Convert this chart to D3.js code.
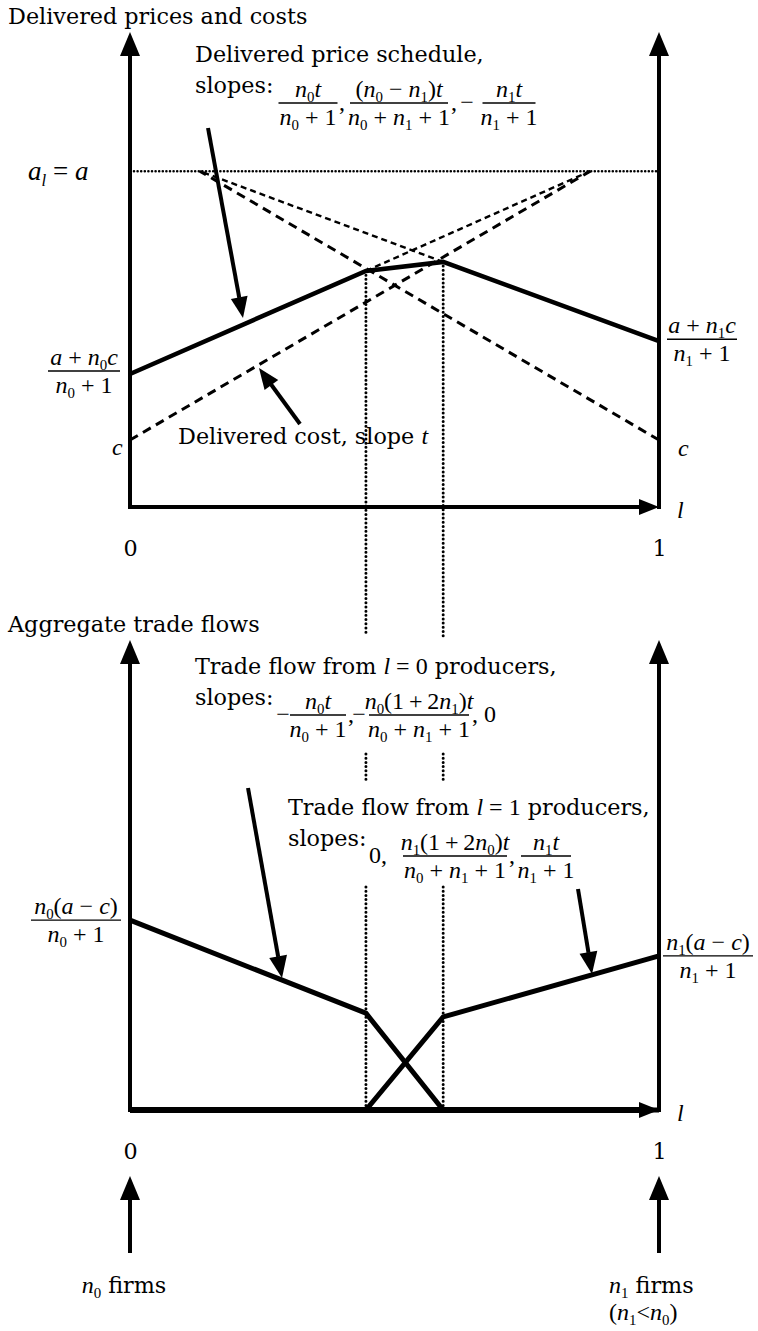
<!DOCTYPE html>
<html>
<head>
<meta charset="utf-8">
<script src="https://cdn.jsdelivr.net/npm/d3@7"></script>
<style>
  html, body { margin: 0; padding: 0; background: #fff; }
  svg { display: block; }
  text { white-space: pre; }
</style>
</head>
<body>
<svg id="chart" width="758" height="1331"></svg>
<script>
// ---------- data ----------
// location along the line segment (l) and the two market boundaries
const tickLocs = [0, 1];
const tickLabels = ["0", "1"];
const boundaries = [0.446, 0.592];

// delivered prices and costs (arbitrary price units, axis top = 100)
const levelA = 70.7;   // a_l = a
const levelC = 14.1;   // c
const priceSchedule = [[0, 28.0], [0.446, 49.7], [0.592, 51.6], [1, 34.9]];
const priceExt0 = [[0.446, 49.7], [0.870, 70.7]];
const priceExt1 = [[0.592, 51.6], [0.132, 70.7]];
const cost0 = [[0, 14.1], [0.870, 70.7]];
const cost1 = [[1, 14.1], [0.132, 70.7]];

// aggregate trade flows (arbitrary units, axis top = 100)
const flow0 = [[0, 40.4], [0.446, 20.6], [0.592, 0], [1, 0]];
const flow1 = [[0, 0], [0.446, 0], [0.592, 19.8], [1, 32.8]];

// ---------- setup ----------
const svg = d3.select("#chart");
const PROSE = "'DejaVu Serif', serif";
const MATH = "'Liberation Serif', 'Times New Roman', serif";
const PS = 22.3;
const MS = 24;

const x = d3.scaleLinear().domain([0, 1]).range([130, 659]);
const yTop = d3.scaleLinear().domain([0, 100]).range([507, 32]);
const yBot = d3.scaleLinear().domain([0, 100]).range([1110, 640]);

function arrow(g, x1, y1, x2, y2, w, hl, hw) {
  const ang = Math.atan2(y2 - y1, x2 - x1);
  const bx = x2 - hl * Math.cos(ang), by = y2 - hl * Math.sin(ang);
  g.append("line").attr("x1", x1).attr("y1", y1)
    .attr("x2", bx + 0.5 * Math.cos(ang)).attr("y2", by + 0.5 * Math.sin(ang))
    .attr("stroke", "#000").attr("stroke-width", w);
  const px = -Math.sin(ang) * hw, py = Math.cos(ang) * hw;
  g.append("path").attr("d", `M${x2},${y2}L${bx + px},${by + py}L${bx - px},${by - py}Z`).attr("fill", "#000");
}

// math markup: letters italic, "_X" subscript, everything else upright
function addMath(text, str, size, pending) {
  for (let i = 0; i < str.length; i++) {
    let ch = str[i];
    let sub = false;
    if (ch === "_") { sub = true; ch = str[++i]; }
    const italic = /[a-z]/.test(ch);
    const t = text.append("tspan")
      .attr("font-family", MATH)
      .attr("font-style", italic ? "italic" : "normal")
      .attr("font-size", sub ? size * 0.62 : size)
      .text(ch);
    const shift = sub ? size * 0.2 : 0;
    const dy = shift - pending;
    if (dy) t.attr("dy", dy);
    pending = shift;
  }
  return pending;
}

// mixed prose / math line
function rich(g, px, py, segs, anchor, mathSize) {
  const t = g.append("text").attr("x", px).attr("y", py)
    .attr("text-anchor", anchor || "start").attr("fill", "#000")
    .attr("xml:space", "preserve");
  let pending = 0;
  segs.forEach(([kind, s]) => {
    if (kind === "m") {
      pending = addMath(t, s, mathSize || MS, pending);
    } else {
      const sp = t.append("tspan").attr("font-family", PROSE).attr("font-size", PS).text(s);
      if (pending) sp.attr("dy", -pending);
      pending = 0;
    }
  });
  return t;
}

function frac(g, cx, barY, num, den, w) {
  g.append("line").attr("x1", cx - w / 2).attr("x2", cx + w / 2)
    .attr("y1", barY).attr("y2", barY).attr("stroke", "#000").attr("stroke-width", 1.3);
  rich(g, cx, barY - 6, [["m", num]], "middle");
  rich(g, cx, barY + 22, [["m", den]], "middle");
}

const lineT = d3.line().x(d => x(d[0])).y(d => yTop(d[1]));
const lineB = d3.line().x(d => x(d[0])).y(d => yBot(d[1]));
const TS = "\u2009"; // thin space for compact formulas

// ================= upper panel: delivered prices and costs =================
const upper = svg.append("g");

rich(upper, 8, 24, [["p", "Delivered prices and costs"]]);

// a level (dotted)
upper.append("line").attr("x1", x(0) + 4).attr("x2", x(1)).attr("y1", yTop(levelA)).attr("y2", yTop(levelA))
  .attr("stroke", "#000").attr("stroke-width", 2.6).attr("stroke-linecap", "round").attr("stroke-dasharray", "0 3.6");

// boundary verticals (dotted), interrupted where the text blocks sit
boundaries.forEach((b, i) => {
  const yStart = yTop(priceSchedule[i + 1][1]);
  [[yStart, 636], [754, 781], [887, yBot(0)]].forEach(([a, z]) => {
    svg.append("line").attr("x1", x(b)).attr("x2", x(b)).attr("y1", a).attr("y2", z)
      .attr("stroke", "#000").attr("stroke-width", 3).attr("stroke-linecap", "round").attr("stroke-dasharray", "0 4.2");
  });
});

// delivered costs (heavy dashes)
[cost0, cost1].forEach(d => upper.append("path").attr("d", lineT(d)).attr("fill", "none")
  .attr("stroke", "#000").attr("stroke-width", 3).attr("stroke-dasharray", "9 6"));
// extensions of the single-source price lines (light dashes)
[priceExt0, priceExt1].forEach(d => upper.append("path").attr("d", lineT(d)).attr("fill", "none")
  .attr("stroke", "#000").attr("stroke-width", 2.4).attr("stroke-dasharray", "6 4"));
// delivered price schedule
upper.append("path").attr("d", lineT(priceSchedule)).attr("fill", "none")
  .attr("stroke", "#000").attr("stroke-width", 4.5).attr("stroke-linejoin", "miter");

// axes
arrow(upper, x(0), yTop(0) + 2, x(0), yTop(100), 4, 24, 10);
arrow(upper, x(1), yTop(0) + 2, x(1), yTop(100), 4, 24, 10);
arrow(upper, x(0), yTop(0), x(1), yTop(0), 4, 20, 8);
upper.append("g").attr("transform", `translate(0,${yTop(0)})`)
  .call(d3.axisBottom(x).tickValues(tickLocs).tickFormat((d, i) => tickLabels[i]).tickSize(0).tickPadding(33))
  .call(s => s.select(".domain").remove())
  .selectAll("text").attr("font-family", PROSE).attr("font-size", PS).attr("fill", "#000");
rich(upper, x(1) + 18, yTop(0) + 11, [["m", "l"]]);

// vertical axis labels
rich(upper, 28, yTop(levelA) + 9, [["m", "a_l = a"]], "start", 27);
frac(upper, 84, yTop(priceSchedule[0][1]) - 3, "a + n_0c", "n_0 + 1", 72);
frac(upper, 702, yTop(priceSchedule[3][1]) - 2, "a + n_1c", "n_1 + 1", 70);
rich(upper, 112, yTop(levelC) + 15, [["m", "c"]]);
rich(upper, 678, yTop(levelC) + 16, [["m", "c"]]);

// annotation: price schedule
rich(upper, 195, 62, [["p", "Delivered price schedule,"]]);
rich(upper, 195, 93, [["p", "slopes:"]]);
frac(upper, 308, 103, "n_0t", "n_0 + 1", 59);
rich(upper, 339, 110, [["m", ","]]);
frac(upper, 399, 103, "(n_0 \u2212 n_1)t", "n_0 + n_1 + 1", 98);
rich(upper, 451, 110, [["m", ","]]);
rich(upper, 467, 110, [["m", "\u2212"]], "middle");
frac(upper, 509, 103, "n_1t", "n_1 + 1", 53);
arrow(upper, 208, 128, 243, 318, 4, 21, 8.5);

// annotation: delivered cost
rich(upper, 178, 444, [["p", "Delivered cost, slope "], ["m", "t"]]);
arrow(upper, 300, 424, 259, 368, 4, 21, 8.5);

// ================= lower panel: aggregate trade flows =================
const lower = svg.append("g");
rich(lower, 8, 632, [["p", "Aggregate trade flows"]]);

lower.append("path").attr("d", lineB(flow0)).attr("fill", "none")
  .attr("stroke", "#000").attr("stroke-width", 5);
lower.append("path").attr("d", lineB(flow1)).attr("fill", "none")
  .attr("stroke", "#000").attr("stroke-width", 5);

arrow(lower, x(0), yBot(0) + 2, x(0), yBot(100), 4, 24, 10);
arrow(lower, x(1), yBot(0) + 2, x(1), yBot(100), 4, 24, 10);
arrow(lower, x(0), yBot(0), x(1), yBot(0), 6, 20, 8);
lower.append("g").attr("transform", `translate(0,${yBot(0)})`)
  .call(d3.axisBottom(x).tickValues(tickLocs).tickFormat((d, i) => tickLabels[i]).tickSize(0).tickPadding(33))
  .call(s => s.select(".domain").remove())
  .selectAll("text").attr("font-family", PROSE).attr("font-size", PS).attr("fill", "#000");
rich(lower, x(1) + 18, yBot(0) + 11, [["m", "l"]]);

frac(lower, 76, yBot(flow0[0][1]), "n_0(a \u2212 c)", "n_0 + 1", 90);
frac(lower, 708, yBot(flow1[3][1]), "n_1(a \u2212 c)", "n_1 + 1", 90);

rich(lower, 195, 674, [["p", "Trade flow from "], ["m", "l = 0"], ["p", " producers,"]]);
rich(lower, 195, 705, [["p", "slopes:"]]);
rich(lower, 283, 722, [["m", "\u2212"]], "middle");
frac(lower, 318, 715, "n_0t", "n_0 + 1", 56);
rich(lower, 348, 722, [["m", ","]]);
rich(lower, 359, 722, [["m", "\u2212"]], "middle");
frac(lower, 419, 715, "n_0(1" + TS + "+" + TS + "2n_1)t", "n_0 + n_1 + 1", 100);
rich(lower, 472, 722, [["m", ", 0"]]);
arrow(lower, 248, 788, 282, 978, 4, 22, 9);

rich(lower, 288, 815, [["p", "Trade flow from "], ["m", "l = 1"], ["p", " producers,"]]);
rich(lower, 288, 846, [["p", "slopes:"]]);
rich(lower, 369, 863, [["m", "0,"]]);
frac(lower, 455, 856, "n_1(1" + TS + "+" + TS + "2n_0)t", "n_0 + n_1 + 1", 104);
rich(lower, 509, 863, [["m", ","]]);
frac(lower, 546, 856, "n_1t", "n_1 + 1", 50);
arrow(lower, 578, 889, 592, 974, 4, 22, 9);

// firm locations
arrow(lower, x(0), 1253, x(0), 1176, 4, 24, 10);
arrow(lower, x(1), 1253, x(1), 1176, 4, 24, 10);
rich(lower, 124, 1293, [["m", "n_0"], ["p", " firms"]], "middle");
rich(lower, 609, 1293, [["m", "n_1"], ["p", " firms"]]);
rich(lower, 609, 1320, [["m", "(n_1<n_0)"]]);
</script>
</body>
</html>
